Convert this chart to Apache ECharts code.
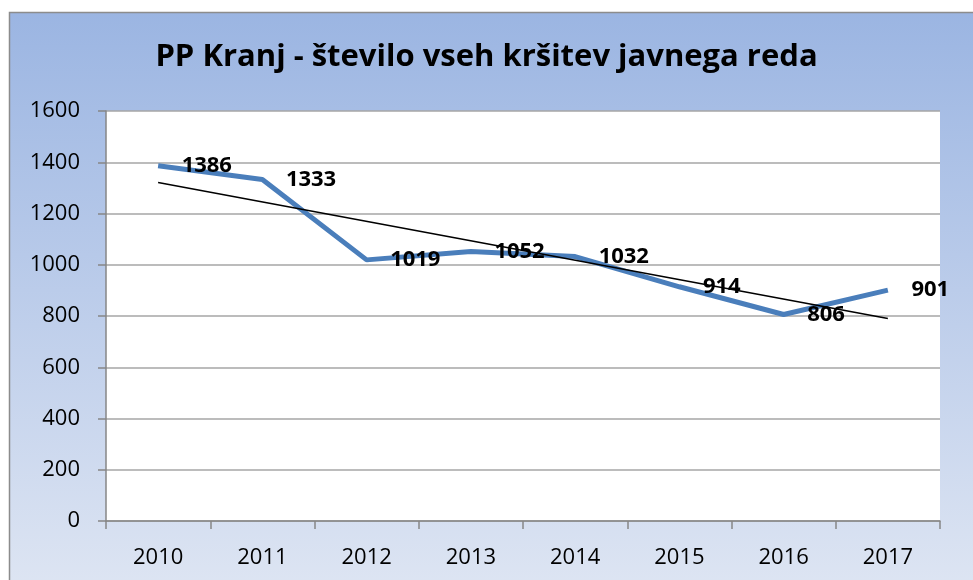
<!DOCTYPE html>
<html>
<head>
<meta charset="utf-8">
<script src="https://cdn.jsdelivr.net/npm/echarts@6/dist/echarts.min.js"></script>
<style>html,body{margin:0;padding:0;background:#fff}#c{width:973px;height:580px}</style>
</head>
<body>
<div id="c"></div>
<script>
const titleText = 'PP Kranj - število vseh kršitev javnega reda';
const years = ['2010','2011','2012','2013','2014','2015','2016','2017'];
const violations = [1386, 1333, 1019, 1052, 1032, 914, 806, 901];
const trendEnds = [1321, 790];
const yTicks = [0, 200, 400, 600, 800, 1000, 1200, 1400, 1600];

const FONT = '"Open Sans", "Noto Sans", sans-serif';
const chart = echarts.init(document.getElementById('c'), null, {renderer: 'canvas'});
chart.setOption({
  animation: false,
  backgroundColor: '#ffffff',
  graphic: [{
    type: 'rect', z: -10, silent: true,
    shape: {x: 9.5, y: 12.5, width: 980, height: 590},
    style: {
      fill: new echarts.graphic.LinearGradient(0, 0, 0, 1, [
        {offset: 0, color: '#9bb5e2'},
        {offset: 1, color: '#dfe6f3'}
      ]),
      stroke: '#8c8c8c', lineWidth: 1.5
    }
  }],
  title: {
    text: titleText, left: 'center', top: 37,
    textStyle: {fontFamily: FONT, fontSize: 31, fontWeight: 'bold', color: '#000'}
  },
  grid: {left: 106, right: 33, top: 111, bottom: 59, show: true, backgroundColor: '#ffffff', borderWidth: 0},
  xAxis: {
    type: 'category', data: years, boundaryGap: true,
    axisLine: {lineStyle: {color: '#868686', width: 1.5}},
    axisTick: {show: true, length: 8, lineStyle: {color: '#868686', width: 1.5}},
    axisLabel: {margin: 26, fontFamily: FONT, fontSize: 22, color: '#000'}
  },
  yAxis: {
    type: 'value', min: yTicks[0], max: yTicks[yTicks.length - 1], interval: yTicks[1] - yTicks[0],
    axisLine: {show: true, lineStyle: {color: '#868686', width: 1.5}},
    axisTick: {show: true, length: 8, lineStyle: {color: '#868686', width: 1.5}},
    axisLabel: {margin: 26, fontFamily: FONT, fontSize: 22, color: '#000', formatter: v => String(v)},
    splitLine: {lineStyle: {color: '#a6a6a6', width: 1.5}}
  },
  series: [{
    type: 'line', data: violations, showSymbol: true, symbol: 'circle', symbolSize: 1,
    itemStyle: {color: 'rgba(0,0,0,0)'},
    lineStyle: {color: '#4a7ebb', width: 5}, z: 3,
    label: {show: true, position: 'right', distance: 23, fontFamily: FONT, fontSize: 22, fontWeight: 'bold', color: '#000'}
  }, {
    type: 'line', data: [[years[0], trendEnds[0]], [years[years.length - 1], trendEnds[1]]],
    showSymbol: false, symbol: 'none',
    lineStyle: {color: '#000', width: 1.5}, z: 4
  }]
});
</script>
</body>
</html>
